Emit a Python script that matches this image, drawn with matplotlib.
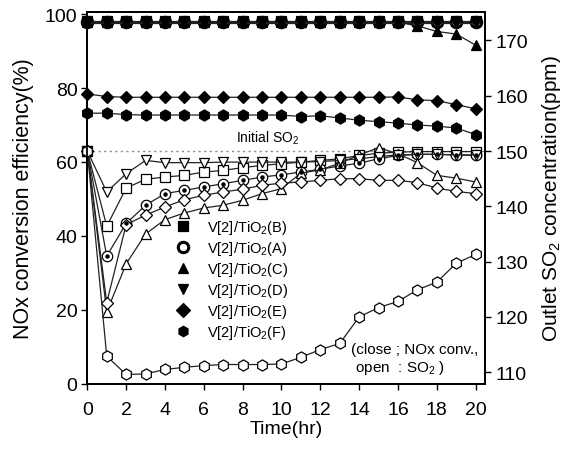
import matplotlib
matplotlib.use("Agg")
import matplotlib.pyplot as plt
from matplotlib.lines import Line2D

plt.rcParams['font.family'] = ['Liberation Sans', 'DejaVu Sans']
plt.rcParams['mathtext.default'] = 'regular'

# ── data ─────────────────────────────────────────────────────────────────────
hours = [0, 1, 2, 3, 4, 5, 6, 7, 8, 9, 10, 11, 12, 13, 14, 15, 16, 17, 18, 19, 20]
labels = ['B', 'A', 'C', 'D', 'E', 'F']

# NOx conversion (%), filled markers, left axis
nox_B = [98.1, 98.1, 98.1, 98.1, 98.1, 98.1, 98.1, 98.1, 98.1, 98.1, 98.1,
         98.1, 98.1, 98.1, 98.1, 98.1, 98.1, 98.1, 98.1, 98.1, 98.1]
nox_A = [97.8, 97.8, 97.8, 97.8, 97.8, 97.8, 97.8, 97.8, 97.8, 97.8, 97.8,
         97.8, 97.8, 97.8, 97.8, 97.8, 97.8, 97.8, 97.8, 97.8, 97.8]
nox_C = [97.9, 97.9, 97.9, 97.9, 97.9, 97.9, 97.9, 97.9, 97.9, 97.9, 97.9,
         97.9, 97.9, 97.9, 97.9, 97.9, 97.8, 96.8, 95.3, 94.6, 91.6]
nox_D = [97.6, 97.6, 97.6, 97.6, 97.6, 97.6, 97.6, 97.6, 97.6, 97.6, 97.6,
         97.6, 97.6, 97.6, 97.6, 97.6, 97.6, 97.6, 97.6, 97.6, 97.6]
nox_E = [78.4, 77.7, 77.5, 77.5, 77.5, 77.5, 77.5, 77.5, 77.5, 77.5, 77.5,
         77.5, 77.5, 77.5, 77.5, 77.5, 77.6, 76.8, 76.6, 75.5, 74.4]
nox_F = [73.2, 73.2, 72.8, 72.7, 72.7, 72.7, 72.7, 72.7, 72.7, 72.7, 72.7,
         72.3, 72.5, 71.9, 71.3, 70.9, 70.5, 70.0, 69.7, 69.2, 67.4]

# outlet SO2 (ppm), open markers, right axis
so2_B = [150.0, 136.4, 143.3, 144.9, 145.3, 145.6, 146.2, 146.5, 147.0, 147.4, 147.7,
         148.0, 148.3, 148.6, 149.2, 149.6, 149.8, 149.9, 149.9, 149.9, 149.9]
so2_A = [150.0, 131.0, 136.9, 140.2, 142.3, 142.9, 143.5, 144.1, 144.7, 145.3, 145.7,
         146.2, 146.7, 147.3, 147.8, 148.6, 149.2, 149.4, 149.4, 149.3, 149.2]
so2_C = [150.0, 120.9, 129.6, 135.0, 137.6, 138.8, 139.7, 140.2, 141.1, 142.3, 143.2,
         146.0, 146.6, 147.8, 149.3, 150.6, 149.5, 147.9, 145.6, 145.1, 144.4]
so2_D = [150.0, 142.6, 145.9, 148.3, 147.9, 147.9, 147.9, 148.0, 148.0, 148.0, 148.0,
         148.0, 148.1, 148.3, 148.6, 149.0, 149.3, 149.4, 149.4, 149.3, 149.3]
so2_E = [150.0, 122.6, 136.7, 138.4, 139.9, 141.2, 142.0, 142.6, 143.1, 143.8, 144.2,
         144.4, 144.7, 145.0, 145.0, 144.7, 144.7, 144.3, 143.3, 142.7, 142.3]
so2_F = [150.0, 112.9, 109.6, 109.7, 110.5, 110.9, 111.2, 111.4, 111.4, 111.4, 111.5,
         112.7, 114.1, 115.2, 120.0, 121.7, 122.8, 124.9, 126.3, 129.7, 131.3]

initial_so2 = 150

nox = [nox_B, nox_A, nox_C, nox_D, nox_E, nox_F]
so2 = [so2_B, so2_A, so2_C, so2_D, so2_E, so2_F]
markers = ['s', 'o', '^', 'v', 'D', 'h']
msizes  = [7, 7.5, 7.5, 7.5, 6.5, 8]

# ── figure ───────────────────────────────────────────────────────────────────
fig = plt.figure(figsize=(5.67, 4.56), dpi=100)
ax = fig.add_axes([0.154, 0.156, 0.702, 0.815])
ax2 = ax.twinx()

LC = '#222222'
lw = 0.9

for vals, m, ms in zip(so2, markers, msizes):
    ax2.plot(hours, vals, color=LC, lw=lw, marker=m, ms=ms, mfc='white',
             mec='black', mew=0.9, clip_on=False, zorder=3)
# dot in the centre of the A circles
ax2.plot(hours[1:], so2_A[1:], ls='none', marker='o', ms=2.2, color='black',
         clip_on=False, zorder=4)

handles = []
for vals, m, ms, lab in zip(nox, markers, msizes, labels):
    line, = ax.plot(hours, vals, color=LC, lw=lw, marker=m, ms=ms,
                    mfc='white' if lab == 'A' else 'black', mec='black',
                    mew=2.2 if lab == 'A' else 0.9, clip_on=False, zorder=3,
                    label=f'V[2]/TiO$_2$({lab})')
    handles.append(line)

ax2.axhline(initial_so2, color='#888888', lw=1.0, ls=(0, (1.5, 2.5)), zorder=1)

ax.set_xlim(0, 20.5)
ax.set_ylim(0, 100.5)
ax2.set_ylim(107.9, 175.1)
ax.set_xticks(range(0, 21, 2))
ax.set_yticks(range(0, 101, 20))
ax2.set_yticks(range(110, 171, 10))

for a in (ax, ax2):
    a.tick_params(direction='out', length=4, width=1, labelsize=14)
    for s in a.spines.values():
        s.set_linewidth(1.3)
ax.tick_params(axis='x', pad=8)
ax.tick_params(axis='y', pad=3)

ax.set_xlabel('Time(hr)', fontsize=14, labelpad=2)
ax.set_ylabel('NOx conversion efficiency(%)', fontsize=15.5, labelpad=8)
ax2.set_ylabel('Outlet SO$_2$ concentration(ppm)', fontsize=15, labelpad=8)

ax.text(9.3, 66.8, 'Initial SO$_2$', fontsize=10, ha='center', va='center')
ax.text(13.6, 6.6, '(close ; NOx conv.,\n open  : SO$_2$ )', fontsize=11,
        ha='left', va='center', linespacing=1.15)

leg_handles = [Line2D([], [], ls='none', marker=h.get_marker(), ms=7.5,
                      mfc=h.get_markerfacecolor(), mec='black',
                      mew=h.get_markeredgewidth(), label=h.get_label())
               for h in handles]
ax.legend(handles=leg_handles, loc='upper left', bbox_to_anchor=(0.219, 0.445),
          frameon=False, fontsize=10.5, handletextpad=1.0, labelspacing=0.2,
          handlelength=1.2, borderpad=0, borderaxespad=0)
ax.set_zorder(ax2.get_zorder() + 1)
ax.patch.set_visible(False)

fig.savefig('out.png', dpi=100)
